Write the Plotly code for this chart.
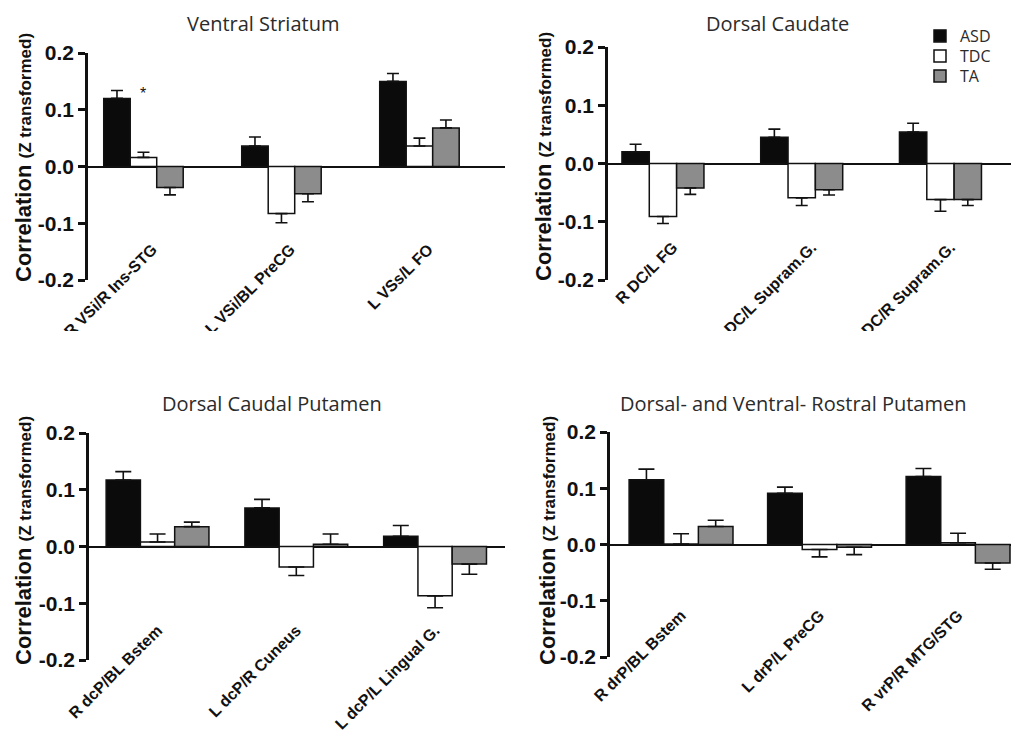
import plotly.graph_objects as go
from plotly.subplots import make_subplots

# page body has an 8px margin: figure is sized to fill the rest of the 1019x737 window
OFF = 8
W, H = 1019 - OFF, 737 - OFF


def fx(px):
    return (px - OFF) / W


def fy(py):
    return 1 - (py - OFF) / H


groups = ["ASD", "TDC", "TA"]
group_colors = {"ASD": "#0b0b0b", "TDC": "#ffffff", "TA": "#8c8c8c"}

titles = ["Ventral Striatum", "Dorsal Caudate",
          "Dorsal Caudal Putamen", "Dorsal- and Ventral- Rostral Putamen"]
y_title = "<b>Correlation <span style='font-size:17px'>(Z transformed)</span></b>"

cats_vs = ["R VSi/R Ins-STG", "L VSi/BL PreCG", "L VSs/L FO"]
asd_vs = [0.120, 0.036, 0.150]
asd_vs_err = [0.014, 0.016, 0.014]
tdc_vs = [0.016, -0.083, 0.036]
tdc_vs_err = [0.009, 0.016, 0.014]
ta_vs = [-0.037, -0.048, 0.068]
ta_vs_err = [0.013, 0.014, 0.014]

cats_dc = ["R DC/L FG", "L DC/L Supram.G.", "L DC/R Supram.G."]
asd_dc = [0.020, 0.045, 0.054]
asd_dc_err = [0.013, 0.014, 0.015]
tdc_dc = [-0.091, -0.059, -0.062]
tdc_dc_err = [0.012, 0.013, 0.020]
ta_dc = [-0.042, -0.045, -0.062]
ta_dc_err = [0.011, 0.009, 0.010]

cats_dcp = ["R dcP/BL Bstem", "L dcP/R Cuneus", "L dcP/L Lingual G."]
asd_dcp = [0.117, 0.068, 0.018]
asd_dcp_err = [0.015, 0.015, 0.019]
tdc_dcp = [0.008, -0.036, -0.087]
tdc_dcp_err = [0.014, 0.015, 0.021]
ta_dcp = [0.035, 0.004, -0.031]
ta_dcp_err = [0.008, 0.018, 0.018]

cats_rp = ["R drP/BL Bstem", "L drP/L PreCG", "R vrP/R MTG/STG"]
asd_rp = [0.115, 0.091, 0.121]
asd_rp_err = [0.019, 0.011, 0.014]
tdc_rp = [0.001, -0.009, 0.003]
tdc_rp_err = [0.018, 0.013, 0.017]
ta_rp = [0.032, -0.005, -0.033]
ta_rp_err = [0.011, 0.013, 0.011]

panels = [
    dict(cats=cats_vs, vals=[asd_vs, tdc_vs, ta_vs], errs=[asd_vs_err, tdc_vs_err, ta_vs_err],
         xpx=(88, 505), ypx=(53, 280), xr=(-0.402, 2.62), bw=0.192, cap=6, labpx=236, lshift=9,
         title_xy=(263, 8.5), title_anchor="top", ytitle_xy=(24, 158)),
    dict(cats=cats_dc, vals=[asd_dc, tdc_dc, ta_dc], errs=[asd_dc_err, tdc_dc_err, ta_dc_err],
         xpx=(608, 1019), ypx=(47, 280), xr=(-0.396, 2.566), bw=0.197, cap=6, labpx=234, lshift=10,
         title_xy=(777, 8.5), title_anchor="top", ytitle_xy=(543, 157)),
    dict(cats=cats_dcp, vals=[asd_dcp, tdc_dcp, ta_dcp], errs=[asd_dcp_err, tdc_dcp_err, ta_dcp_err],
         xpx=(89, 505), ypx=(433, 660), xr=(-0.494, 2.504), bw=0.247, cap=8, labpx=617, lshift=0,
         title_xy=(272, 403), title_anchor="middle", ytitle_xy=(23, 541)),
    dict(cats=cats_rp, vals=[asd_rp, tdc_rp, ta_rp], errs=[asd_rp_err, tdc_rp_err, ta_rp_err],
         xpx=(610, 1019), ypx=(432, 657), xr=(-0.513, 2.44), bw=0.250, cap=8, labpx=602, lshift=0,
         title_xy=(793, 403), title_anchor="middle", ytitle_xy=(547, 541)),
]

legend_names = ["legend", "legend2", "legend3"]
legend_tops = [19, 39, 59]

fig = make_subplots(rows=2, cols=2)
pos = [(1, 1), (1, 2), (2, 1), (2, 2)]

for pi, p in enumerate(panels):
    r, c = pos[pi]
    for gi, g in enumerate(groups):
        vals = p["vals"][gi]
        errs = p["errs"][gi]
        up = [e if v >= 0 else 0 for v, e in zip(vals, errs)]
        dn = [e if v < 0 else 0 for v, e in zip(vals, errs)]
        fig.add_trace(go.Bar(
            x=p["cats"], y=vals, name=g,
            width=p["bw"], offset=(gi - 1.5) * p["bw"],
            marker=dict(color=group_colors[g], line=dict(color="#111111", width=1.5)),
            error_y=dict(type="data", symmetric=False, array=up, arrayminus=dn,
                         color="#111111", thickness=1.6, width=p["cap"]),
            showlegend=(pi == 1), legend=legend_names[gi],
        ), row=r, col=c)

axis_font = dict(family="Liberation Sans, Arial", size=21, color="#111111")
for pi, p in enumerate(panels):
    xn = "xaxis" if pi == 0 else f"xaxis{pi+1}"
    yn = "yaxis" if pi == 0 else f"yaxis{pi+1}"
    x0, x1 = p["xpx"]
    yt, yb = p["ypx"]
    fig.layout[xn].update(
        domain=[fx(x0), min(fx(x1), 1.0)], range=list(p["xr"]),
        showline=False, showgrid=False, zeroline=False, ticks="",
        tickangle=-45, anchor="free", position=fy(p["labpx"]), automargin=False,
        ticklabelshift=p["lshift"],
        tickfont=dict(family="Liberation Sans, Arial", size=16, color="#111111"),
        tickprefix="<b>", ticksuffix="</b>",
    )
    fig.layout[yn].update(
        domain=[fy(yb), fy(yt)], range=[-0.2, 0.2], automargin=False,
        tickvals=[-0.2, -0.1, 0.0, 0.1, 0.2],
        ticktext=["<b>-0.2</b>", "<b>-0.1</b>", "<b>0.0</b>", "<b>0.1</b>", "<b>0.2</b>"],
        showline=True, linecolor="#111111", linewidth=2.5,
        ticks="outside", ticklen=7, tickwidth=2.5, tickcolor="#111111",
        showgrid=False, zeroline=True, zerolinecolor="#111111", zerolinewidth=2.2,
        tickfont=axis_font,
    )
    tx, ty = p["title_xy"]
    fig.add_annotation(text=titles[pi], xref="paper", yref="paper",
                       x=fx(tx), y=fy(ty), xanchor="center", yanchor=p["title_anchor"],
                       showarrow=False, font=dict(family="Open Sans", size=20, color="#2b2b2b"))
    ax_, ay_ = p["ytitle_xy"]
    fig.add_annotation(text=y_title, xref="paper", yref="paper", textangle=-90,
                       x=fx(ax_), y=fy(ay_), xanchor="center", yanchor="middle",
                       showarrow=False,
                       font=dict(family="Liberation Sans, Arial", size=22, color="#111111"))

fig.add_annotation(text="*", xref="x", yref="y", x=cats_vs[0], y=0.128,
                   showarrow=False, font=dict(family="Liberation Sans, Arial", size=16, color="#111111"))

# white band mimicking the crop of the upper panels' labels
fig.add_shape(type="rect", xref="paper", yref="paper", x0=0, x1=1,
              y0=fy(390), y1=fy(331), fillcolor="white", line=dict(width=0),
              layer="above")

legend_style = dict(xanchor="left", yanchor="top",
                    font=dict(family="Open Sans", size=16, color="#2b2b2b"),
                    bgcolor="rgba(0,0,0,0)")
fig.update_layout(
    width=W, height=H, margin=dict(l=0, r=0, t=0, b=0, autoexpand=False),
    paper_bgcolor="white", plot_bgcolor="white", barmode="overlay",
    legend=dict(x=fx(920), y=fy(legend_tops[0]), **legend_style),
    legend2=dict(x=fx(920), y=fy(legend_tops[1]), **legend_style),
    legend3=dict(x=fx(920), y=fy(legend_tops[2]), **legend_style),
)

fig.write_html("out.html")
